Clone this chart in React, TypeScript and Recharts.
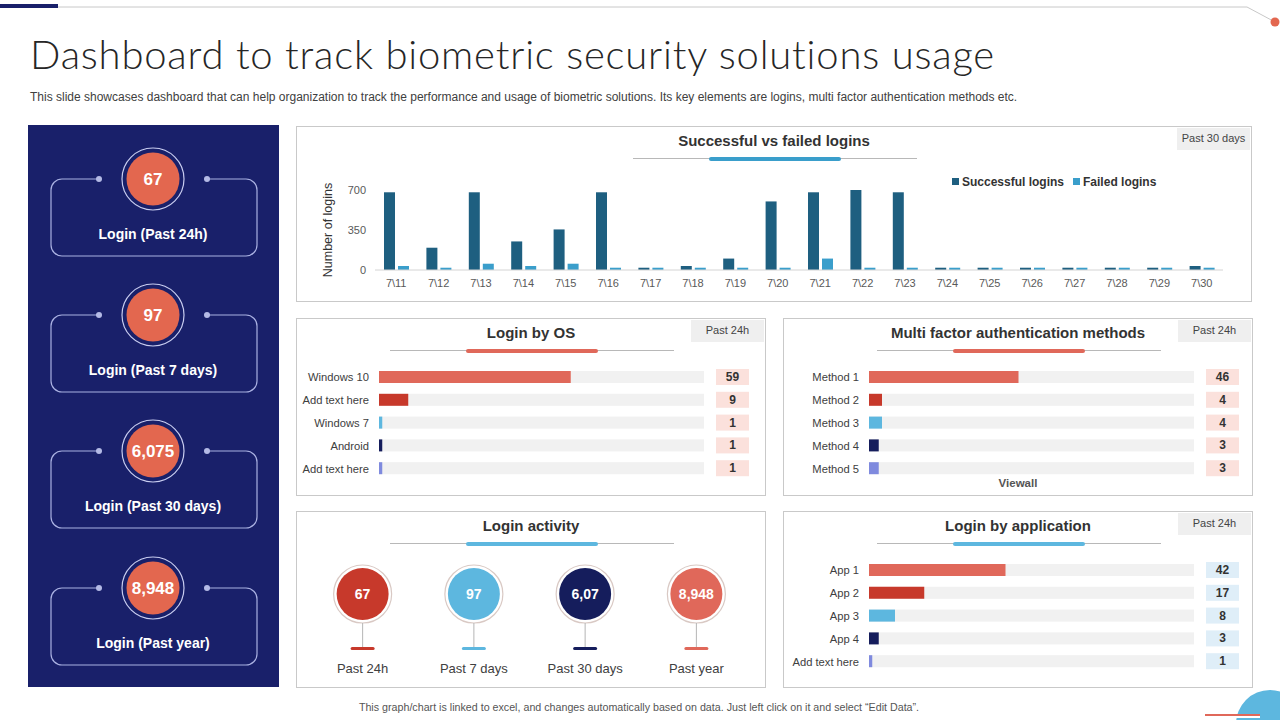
import React from 'react';
import { BarChart, Bar, XAxis, YAxis, Cell, Legend, ScatterChart, Scatter } from 'recharts';

// ── Data ───────────────────────────────────────────────────────────────────
const days = ['7\\11', '7\\12', '7\\13', '7\\14', '7\\15', '7\\16', '7\\17', '7\\18', '7\\19', '7\\20',
  '7\\21', '7\\22', '7\\23', '7\\24', '7\\25', '7\\26', '7\\27', '7\\28', '7\\29', '7\\30'];
const successfulLogins = [680, 195, 680, 250, 355, 680, 20, 35, 100, 600, 680, 700, 680, 20, 20, 20, 20, 20, 20, 35];
const failedLogins = [35, 20, 55, 35, 55, 20, 20, 20, 20, 20, 100, 20, 20, 20, 20, 20, 20, 20, 20, 20];
const loginTicks = [0, 350, 700];

const osNames = ['Windows 10', 'Add text here', 'Windows 7', 'Android', 'Add text here'];
const osValues = [59, 9, 1, 1, 1];

const mfaNames = ['Method 1', 'Method 2', 'Method 3', 'Method 4', 'Method 5'];
const mfaValues = [46, 4, 4, 3, 3];

const appNames = ['App 1', 'App 2', 'App 3', 'App 4', 'Add text here'];
const appValues = [42, 17, 8, 3, 1];

const kpiValues = ['67', '97', '6,075', '8,948'];
const kpiLabels = ['Login (Past 24h)', 'Login (Past 7 days)', 'Login (Past 30 days)', 'Login (Past year)'];

const activityLabels = ['Past 24h', 'Past 7 days', 'Past 30 days', 'Past year'];
const activityValues = ['67', '97', '6,07', '8,948'];

// ── Colours ────────────────────────────────────────────────────────────────
const C = {
  navyPanel: '#19206a',
  orange: '#e3674f',
  coral: '#e0685a',
  red: '#c7392b',
  sky: '#5db7df',
  navy: '#151d5c',
  lavender: '#7f8ade',
  success: '#1e5f80',
  failed: '#3a9ecb',
  track: '#f1f1f1',
  border: '#c9c9c9',
  text: '#404040',
};
const rowColorsOS = [C.coral, C.red, C.sky, C.navy, C.lavender];
const rowColorsMFA = [C.coral, C.red, C.sky, C.navy, C.lavender];
const rowColorsApp = [C.coral, C.red, C.sky, C.navy, C.lavender];
const activityColors = [C.red, C.sky, C.navy, C.coral];

const FONT = '"Liberation Sans", Arial, sans-serif';

// ── Panel frame with title + underline + badge ─────────────────────────────
function Panel({ x, y, w, h, title, accent, badge, children }: any) {
  return (
    <div style={{ position: 'absolute', left: x, top: y, width: w, height: h, border: `1px solid ${C.border}`, boxSizing: 'border-box' }}>
      <div style={{ position: 'absolute', left: 0, width: '100%', top: 5, textAlign: 'center', fontSize: 15, fontWeight: 700, color: '#333' }}>{title}</div>
      <div style={{ position: 'absolute', left: w / 2 - 142, top: 31, width: 284, height: 1, background: '#b8b8b8' }} />
      <div style={{ position: 'absolute', left: w / 2 - 66, top: 30, width: 132, height: 4, borderRadius: 2, background: accent }} />
      {badge && (
        <div style={{ position: 'absolute', right: 1, top: 1, width: 73, height: 22, background: '#efefef', fontSize: 11, color: '#444', textAlign: 'center', lineHeight: '20px' }}>{badge}</div>
      )}
      {children}
    </div>
  );
}

// ── Horizontal progress-bar chart ──────────────────────────────────────────
function HBar({ left, top, labelWidth, names, values, colors, boxFill }: any) {
  const data = names.map((n: string, i: number) => ({ name: n, value: values[i] }));
  const right = 469 - labelWidth - 325;
  const Track = (p: any) => (
    <g>
      <rect x={p.x} y={p.y} width={p.width} height={p.height} fill={C.track} />
      <rect x={p.x + p.width + 12} y={p.y + p.height / 2 - 8} width={33} height={16} fill={boxFill} />
      <text x={p.x + p.width + 28.5} y={p.y + p.height / 2 + 4} textAnchor="middle" fontSize={12} fontWeight={700} fill="#333" fontFamily={FONT}>
        {values[p.index]}
      </text>
    </g>
  );
  const LeftTick = (p: any) => (
    <text x={p.x} y={p.y + 4} textAnchor="end" fontSize={11.2} fill={C.text} fontFamily={FONT}>{names[p.payload.index]}</text>
  );
  return (
    <div style={{ position: 'absolute', left, top }}>
      <BarChart width={469} height={126} data={data} layout="vertical" margin={{ top: 6, right, bottom: 6, left: 0 }}>
        <XAxis type="number" domain={[0, 100]} hide />
        <YAxis type="category" dataKey="name" width={labelWidth} axisLine={false} tickLine={false} tickSize={0} tickMargin={10}
          interval={0} tick={<LeftTick />} />
        <Bar dataKey="value" barSize={12} isAnimationActive={false} background={Track}>
          {data.map((_: any, i: number) => <Cell key={i} fill={colors[i]} />)}
        </Bar>
      </BarChart>
    </div>
  );
}

// ── Login activity bubbles ─────────────────────────────────────────────────
function ActivityShape(p: any) {
  const { cx, cy, index } = p;
  const col = activityColors[index];
  return (
    <g>
      <circle cx={cx} cy={cy} r={29} fill="#fff" stroke="#d9c9c4" strokeWidth={1.2} />
      <circle cx={cx} cy={cy} r={26} fill={col} />
      <text x={cx} y={cy + 5} textAnchor="middle" fontSize={14} fontWeight={700} fill="#fff" fontFamily={FONT}>{activityValues[index]}</text>
      <line x1={cx} y1={cy + 29} x2={cx} y2={cy + 54} stroke="#b5b5b5" strokeWidth={1} />
      <rect x={cx - 12} y={cy + 53} width={24} height={3} rx={1.5} fill={col} />
      <text x={cx} y={cy + 79} textAnchor="middle" fontSize={13} fill={C.text} fontFamily={FONT}>{activityLabels[index]}</text>
    </g>
  );
}

// ── Legend for main chart ──────────────────────────────────────────────────
function LoginLegend() {
  const item = (col: string, label: string) => (
    <span style={{ display: 'inline-flex', alignItems: 'center', marginRight: 9 }}>
      <span style={{ width: 7, height: 7, background: col, marginRight: 3, display: 'inline-block' }} />
      <span style={{ fontSize: 12, fontWeight: 700, color: '#333' }}>{label}</span>
    </span>
  );
  return <div style={{ whiteSpace: 'nowrap' }}>{item(C.success, 'Successful logins')}{item(C.failed, 'Failed logins')}</div>;
}

// ── Left navy KPI column ───────────────────────────────────────────────────
function KpiColumn() {
  const cys = [179, 315, 451, 588];
  const L = 51, R = 257, rad = 11;
  return (
    <g>
      <rect x={28} y={125} width={251} height={562} fill={C.navyPanel} />
      {cys.map((cy, i) => {
        const bottom = cy + 77;
        const d = `M99 ${cy} H${L + rad} A${rad} ${rad} 0 0 0 ${L} ${cy + rad} V${bottom - rad} A${rad} ${rad} 0 0 0 ${L + rad} ${bottom} H${R - rad} A${rad} ${rad} 0 0 0 ${R} ${bottom - rad} V${cy + rad} A${rad} ${rad} 0 0 0 ${R - rad} ${cy} H207`;
        return (
          <g key={i}>
            <path d={d} fill="none" stroke="#aab1e2" strokeWidth={1.2} />
            <circle cx={99} cy={cy} r={3} fill="#b4bae6" />
            <circle cx={207} cy={cy} r={3} fill="#b4bae6" />
            <circle cx={153} cy={cy} r={31} fill="none" stroke="#c9cdf0" strokeWidth={1.2} />
            <circle cx={153} cy={cy} r={26.5} fill={C.orange} />
            <text x={153} y={cy + 6} textAnchor="middle" fontSize={17} fontWeight={700} fill="#fff" fontFamily={FONT}>{kpiValues[i]}</text>
            <text x={153} y={cy + 60} textAnchor="middle" fontSize={14} fontWeight={700} fill="#fff" fontFamily={FONT}>{kpiLabels[i]}</text>
          </g>
        );
      })}
    </g>
  );
}

export default function App() {
  const loginData = days.map((d, i) => ({ day: d, success: successfulLogins[i], failed: failedLogins[i] }));
  const activityData = activityLabels.map((l) => ({ label: l, group: 'activity' }));

  return (
    <div style={{ position: 'fixed', left: 0, top: 0, width: 1280, height: 720, background: '#fff', overflow: 'hidden', fontFamily: FONT }}>
      {/* decorations */}
      <svg width={1280} height={720} style={{ position: 'absolute', left: 0, top: 0 }}>
        <rect x={0} y={4} width={58} height={4} fill={C.navyPanel} />
        <polyline points="58,7 1247,7 1275,22" fill="none" stroke="#c8c8c8" strokeWidth={1} />
        <circle cx={1275} cy={22} r={4.5} fill={C.orange} />
        <KpiColumn />
        <circle cx={1270} cy={724} r={34} fill={C.sky} />
        <rect x={1205} y={714} width={55} height={2} fill={C.coral} />
        <rect x={1205} y={716} width={55} height={2} fill="#fff" />
      </svg>

      <div style={{ position: 'absolute', left: 30, top: 30, fontFamily: 'Lato, "Open Sans", sans-serif', fontWeight: 300, fontSize: 40, letterSpacing: 0.8, color: '#262626', whiteSpace: 'nowrap' }}>
        Dashboard to track biometric security solutions usage
      </div>
      <div style={{ position: 'absolute', left: 30, top: 90, fontSize: 12, color: '#404040', whiteSpace: 'nowrap' }}>
        This slide showcases dashboard that can help organization to track the performance and usage of biometric solutions. Its key elements are logins, multi factor authentication methods etc.
      </div>

      {/* Successful vs failed logins */}
      <Panel x={296} y={126} w={956} h={176} title="Successful vs failed logins" accent={C.failed} badge="Past 30 days">
        <div style={{ position: 'absolute', left: -1, top: -1 }}>
          <BarChart width={956} height={176} data={loginData} margin={{ top: 64, right: 29, bottom: 2, left: 0 }} barSize={11} barGap={3}>
            <XAxis dataKey="day" axisLine={{ stroke: '#d4d4d4' }} tickLine={false} tickSize={0} tickMargin={9} interval={0}
              tick={{ fontSize: 11, fill: '#595959', fontFamily: FONT }} />
            <YAxis domain={[0, 700]} ticks={loginTicks} width={79} axisLine={false} tickLine={false} tickSize={0} tickMargin={9}
              tick={{ fontSize: 11, fill: '#595959', fontFamily: FONT }}
              label={{
                content: (p: any) => {
                  const vb = p.viewBox;
                  const cx = vb.x + 32, cy = vb.y + vb.height / 2;
                  return <text x={cx} y={cy} transform={`rotate(-90 ${cx} ${cy})`} textAnchor="middle" dominantBaseline="central" fontSize={12.5} fill="#333" fontFamily={FONT}>Number of logins</text>;
                },
              }} />
            <Legend layout="horizontal" verticalAlign="middle" align="center" content={<LoginLegend />}
              wrapperStyle={{ position: 'absolute', left: 656, top: 45, width: 260 }} />
            <Bar dataKey="success" name="Successful logins" fill={C.success} isAnimationActive={false} />
            <Bar dataKey="failed" name="Failed logins" fill={C.failed} isAnimationActive={false} />
          </BarChart>
        </div>
      </Panel>

      {/* Login by OS */}
      <Panel x={296} y={318} w={470} h={178} title="Login by OS" accent={C.coral} badge="Past 24h" />
      <HBar left={296} top={360} labelWidth={83} names={osNames} values={osValues} colors={rowColorsOS} boxFill="#fbe1dc" />

      {/* Multi factor authentication */}
      <Panel x={783} y={318} w={470} h={178} title="Multi factor authentication methods" accent={C.coral} badge="Past 24h">
        <div style={{ position: 'absolute', left: 0, width: '100%', top: 158, textAlign: 'center', fontSize: 11.5, fontWeight: 700, color: '#555' }}>Viewall</div>
      </Panel>
      <HBar left={783} top={360} labelWidth={86} names={mfaNames} values={mfaValues} colors={rowColorsMFA} boxFill="#fbe1dc" />

      {/* Login activity */}
      <Panel x={296} y={511} w={470} h={177} title="Login activity" accent={C.sky} />
      <div style={{ position: 'absolute', left: 296, top: 548 }}>
        <ScatterChart width={469} height={136} data={activityData} margin={{ top: 0, right: 13, bottom: 44, left: 11 }}>
          <XAxis type="category" dataKey="label" hide allowDuplicatedCategory={false} />
          <YAxis type="category" dataKey="group" hide allowDuplicatedCategory={false} />
          <Scatter data={activityData} shape={ActivityShape} isAnimationActive={false} />
        </ScatterChart>
      </div>

      {/* Login by application */}
      <Panel x={783} y={511} w={470} h={177} title="Login by application" accent={C.sky} badge="Past 24h" />
      <HBar left={783} top={553} labelWidth={86} names={appNames} values={appValues} colors={rowColorsApp} boxFill="#dfeef8" />

      <div style={{ position: 'absolute', left: 0, width: 1278, top: 701, textAlign: 'center', fontSize: 10.7, color: '#555' }}>
        This graph/chart is linked to excel, and changes automatically based on data. Just left click on it and select “Edit Data”.
      </div>
    </div>
  );
}
